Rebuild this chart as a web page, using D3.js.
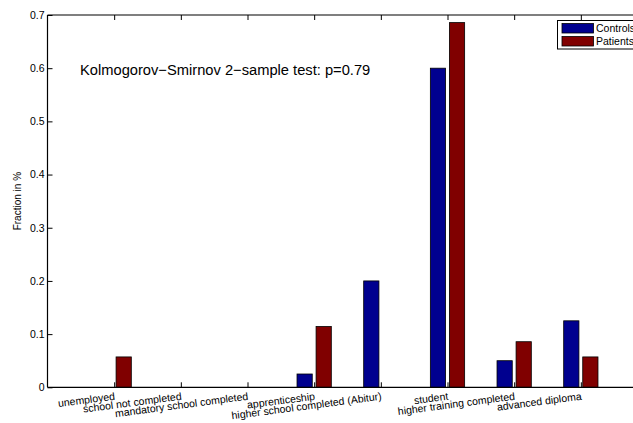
<!DOCTYPE html>
<html><head><meta charset="utf-8">
<script src="https://cdn.jsdelivr.net/npm/d3@7"></script>
<style>html,body{margin:0;background:#fff;overflow:hidden}svg{display:block;font-family:"Liberation Sans",Arial,Helvetica,sans-serif}</style>
</head><body>
<svg id="c" width="633" height="423"></svg>
<script>
const categories = ["unemployed","school not completed","mandatory school completed","apprenticeship","higher school completed (Abitur)","student","higher training completed","advanced diploma"];
const controls = [0, 0, 0, 0.025, 0.2, 0.6, 0.05, 0.125];
const patients = [0.0571, 0, 0, 0.1143, 0, 0.6857, 0.0857, 0.0571];
const seriesNames = ["Controls","Patients"];
const yTicks = [0,0.1,0.2,0.3,0.4,0.5,0.6,0.7];
const colors = ["#00008f","#800000"];

const svg = d3.select("#c");
const L = 47.5, R = 647.5, T = 15, B = 387.3;
const x = d3.scaleLinear().domain([0, 9]).range([L, R]);
const y = d3.scaleLinear().domain([0, 0.7]).range([B, T]);
const barW = 0.2286, off = 0.1429;

const series = [controls, patients];
series.forEach((vals, s) => {
  svg.append("g").selectAll("rect").data(vals).join("rect")
    .attr("x", (d,i) => x(i+1 + (s===0?-off:off) - barW/2))
    .attr("width", x(barW) - x(0))
    .attr("y", d => y(d))
    .attr("height", d => y(0) - y(d))
    .attr("fill", colors[s])
    .attr("stroke", "#000").attr("stroke-width", 0.8)
    .style("display", d => d > 0 ? null : "none");
});

// frame (left, top, bottom; right side lies beyond the window)
const fr = svg.append("g").attr("stroke", "#000").attr("stroke-width", 1.2);
fr.append("line").attr("x1", L).attr("x2", L).attr("y1", T).attr("y2", B);
fr.append("line").attr("x1", L).attr("x2", 640).attr("y1", T).attr("y2", T);
fr.append("line").attr("x1", L).attr("x2", 640).attr("y1", B).attr("y2", B);

// y axis
const ya = svg.append("g").attr("transform", `translate(${L},0)`)
  .call(d3.axisLeft(y).tickValues(yTicks).tickSize(-5).tickPadding(3).tickFormat(d => d===0 ? "0" : d3.format(".1f")(d)));
ya.select(".domain").remove();
ya.selectAll("text").attr("font-size", 10.5).attr("fill", "#000").attr("font-family", '"Liberation Sans",Arial,sans-serif');
ya.selectAll("line").attr("stroke", "#000");

// x ticks bottom & top
const xt = d3.range(1, 9);
const xa = svg.append("g").attr("transform", `translate(0,${B})`)
  .call(d3.axisBottom(x).tickValues(xt).tickSize(-5).tickFormat(""));
xa.select(".domain").remove();
xa.selectAll("line").attr("stroke", "#000");
const xtop = svg.append("g").attr("transform", `translate(0,${T})`)
  .call(d3.axisTop(x).tickValues(xt).tickSize(-5).tickFormat(""));
xtop.select(".domain").remove();
xtop.selectAll("line").attr("stroke", "#000");

// rotated x labels
svg.append("g").selectAll("text").data(categories).join("text")
  .attr("transform", (d,i) => `translate(${x(i+1)},${B+4}) rotate(-7.5)`)
  .attr("text-anchor", "end").attr("dy", "0.8em")
  .attr("font-size", 10.5).attr("fill", "#000")
  .text(d => d);

// y label
svg.append("text").attr("transform", `translate(21,${(T+B)/2}) rotate(-90)`)
  .attr("text-anchor", "middle").attr("font-size", 10).text("Fraction in %");

// annotation
svg.append("text").attr("x", 80).attr("y", 75).attr("font-size", 14.7)
  .text("Kolmogorov\u2212Smirnov 2\u2212sample test: p=0.79");

// legend
const lg = svg.append("g");
lg.append("rect").attr("x", 557.5).attr("y", 20.5).attr("width", 100).attr("height", 28.5)
  .attr("fill", "#fff").attr("stroke", "#000").attr("stroke-width", 1);
seriesNames.forEach((n, i) => {
  lg.append("rect").attr("x", 562).attr("y", 23.5 + i*13).attr("width", 31.5).attr("height", 9.5)
    .attr("fill", colors[i]).attr("stroke", "#000").attr("stroke-width", 0.8);
  lg.append("text").attr("x", 596).attr("y", 32 + i*13).attr("font-size", 10.5).text(n);
});
</script>
</body></html>
